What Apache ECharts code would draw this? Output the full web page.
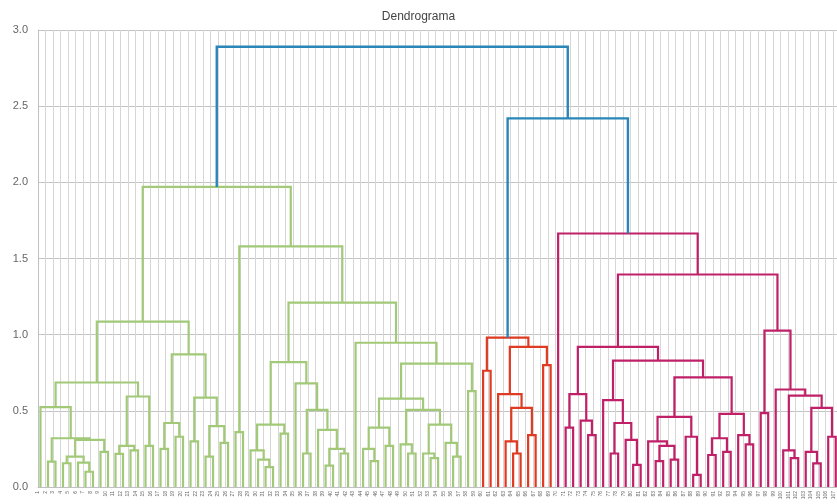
<!DOCTYPE html>
<html>
<head>
<meta charset="utf-8">
<title>Dendrograma</title>
<script src="https://cdn.jsdelivr.net/npm/echarts@6/dist/echarts.min.js"></script>
<style>
  html, body { margin: 0; padding: 0; background: #ffffff; }
  #chart { width: 837px; height: 504px; }
</style>
</head>
<body>
<div id="chart"></div>
<script>
// Chart title and axis settings
const chartTitle = 'Dendrograma';
const yTickValues = [0, 0.5, 1.0, 1.5, 2.0, 2.5, 3.0];

// Links above this height are drawn in the "joined" colour; each subtree
// below it gets the next cluster colour.
const colorThreshold = 2.0;
const joinColor = '#2a86b6';
const clusterColors = ['#a2c978', '#df3a22', '#bf2068'];

// Tree nodes: [merge height, left, right]; leaves are their position (0..106).
const greenSubtreeA = [1.085,
  [0.686,
    [0.524, 0,
      [0.32, [0.166, 1, 2],
        [0.31, [0.20, [0.156, 3, 4], [0.16, 5, [0.10, 6, 7]]], [0.23, 8, 9]]]],
    [0.594, [0.27, [0.217, 10, 11], [0.24, 12, 13]], [0.27, 14, 15]]],
  [0.87,
    [0.42, [0.25, 16, 17], [0.33, 18, 19]],
    [0.587, [0.30, 20, 21], [0.40, [0.20, 22, 23], [0.29, 24, 25]]]]];

const greenSubtreeB = [1.58,
  [0.36, 26, 27],
  [1.21,
    [0.82,
      [0.41, [0.24, 28, [0.18, 29, [0.13, 30, 31]]], [0.35, 32, 33]],
      [0.68, 34,
        [0.506, [0.22, 35, 36],
          [0.375, 37, [0.25, [0.14, 38, 39], [0.22, 40, 41]]]]]],
    [0.947, 42,
      [0.81,
        [0.58,
          [0.39, [0.25, 43, [0.17, 44, 45]], [0.27, 46, 47]],
          [0.506,
            [0.28, 48, [0.22, 49, 50]],
            [0.41, [0.22, 51, [0.19, 52, 53]], [0.29, 54, [0.20, 55, 56]]]]],
        [0.63, 57, 58]]]]];

const greenTree = [1.97, greenSubtreeA, greenSubtreeB];

const redTree = [0.98,
  [0.763, 59, 60],
  [0.92,
    [0.61, 61, [0.52, [0.30, 62, [0.22, 63, 64]], [0.34, 65, 66]]],
    [0.80, 67, 68]]];

const magentaTree = [1.664, 69,
  [1.395,
    [0.92,
      [0.61, [0.39, 70, 71], [0.436, 72, [0.34, 73, 74]]],
      [0.83,
        [0.57, 75, [0.42, [0.22, 76, 77], [0.31, 78, [0.145, 79, 80]]]],
        [0.72,
          [0.46,
            [0.30, 81, [0.27, [0.17, 82, 83], [0.18, 84, 85]]],
            [0.33, 86, [0.08, 87, 88]]],
          [0.48,
            [0.32, [0.21, 89, 90], [0.23, 91, 92]],
            [0.34, 93, [0.28, 94, 95]]]]]],
    [1.026,
      [0.485, 96, 97],
      [0.64, 98,
        [0.60,
          [0.24, 99, [0.19, 100, 101]],
          [0.52, [0.23, 102, [0.155, 103, 104]], [0.33, 105, 106]]]]]]];

const rootTree = [2.89, greenTree, [2.42, redTree, magentaTree]];

const leafCount = 107;
// Leaves sit one third of a slot to the right of each vertical grid line.
const leafShift = 0.33;

// Walk the tree: position every node and emit one U-shaped link per merge.
const links = [];
let nextCluster = 0;
function layout(node, colorIdx) {
  if (typeof node === 'number') {
    return { x: node + leafShift, h: 0 };
  }
  const h = node[0];
  let ownColor = colorIdx;
  if (ownColor === undefined && h <= colorThreshold) {
    ownColor = nextCluster++;
  }
  const left = layout(node[1], ownColor);
  const right = layout(node[2], ownColor);
  links.push([left.x, left.h, right.x, right.h, h, ownColor === undefined ? -1 : ownColor]);
  return { x: (left.x + right.x) / 2, h: h };
}
layout(rootTree, undefined);

const chart = echarts.init(document.getElementById('chart'), null, { renderer: 'canvas' });

chart.setOption({
  animation: false,
  backgroundColor: '#ffffff',
  title: {
    text: chartTitle,
    left: 'center',
    top: 6,
    textStyle: { fontFamily: 'Liberation Sans, Arial, sans-serif', fontSize: 12, fontWeight: 'normal', color: '#444' }
  },
  grid: { left: 38, right: 0, top: 30, bottom: 17, containLabel: false },
  xAxis: {
    type: 'value',
    min: 0,
    max: 106.5,
    interval: 1,
    axisLine: { show: true, lineStyle: { color: '#c0c0c0', width: 1 } },
    axisTick: { show: false },
    axisLabel: {
      show: true,
      rotate: 90,
      fontSize: 5,
      color: '#666',
      margin: 4,
      formatter: function (v) {
        return (Number.isInteger(v) && v < leafCount) ? String(v + 1) : '';
      }
    },
    splitLine: { show: true, lineStyle: { color: '#d6d6d6', width: 1 } }
  },
  yAxis: {
    type: 'value',
    min: yTickValues[0],
    max: yTickValues[yTickValues.length - 1],
    interval: 0.5,
    axisLine: { show: true, lineStyle: { color: '#c0c0c0', width: 1 } },
    axisTick: { show: false },
    axisLabel: {
      fontFamily: 'Liberation Sans, Arial, sans-serif',
      fontSize: 11,
      color: '#666',
      margin: 10,
      formatter: function (v) { return v.toFixed(1); }
    },
    splitLine: { show: true, lineStyle: { color: '#c4c4c4', width: 1 } }
  },
  series: [{
    type: 'custom',
    clip: false,
    data: links,
    encode: { x: [0, 2], y: [1, 4] },
    renderItem: function (params, api) {
      const xl = api.value(0), hl = api.value(1);
      const xr = api.value(2), hr = api.value(3);
      const h = api.value(4), ci = api.value(5);
      const pts = [
        api.coord([xl, hl]),
        api.coord([xl, h]),
        api.coord([xr, h]),
        api.coord([xr, hr])
      ];
      return {
        type: 'polyline',
        shape: { points: pts },
        style: {
          stroke: ci < 0 ? joinColor : clusterColors[ci],
          lineWidth: ci < 0 ? 2.4 : 2.2,
          fill: null
        }
      };
    }
  }]
});
</script>
</body>
</html>
